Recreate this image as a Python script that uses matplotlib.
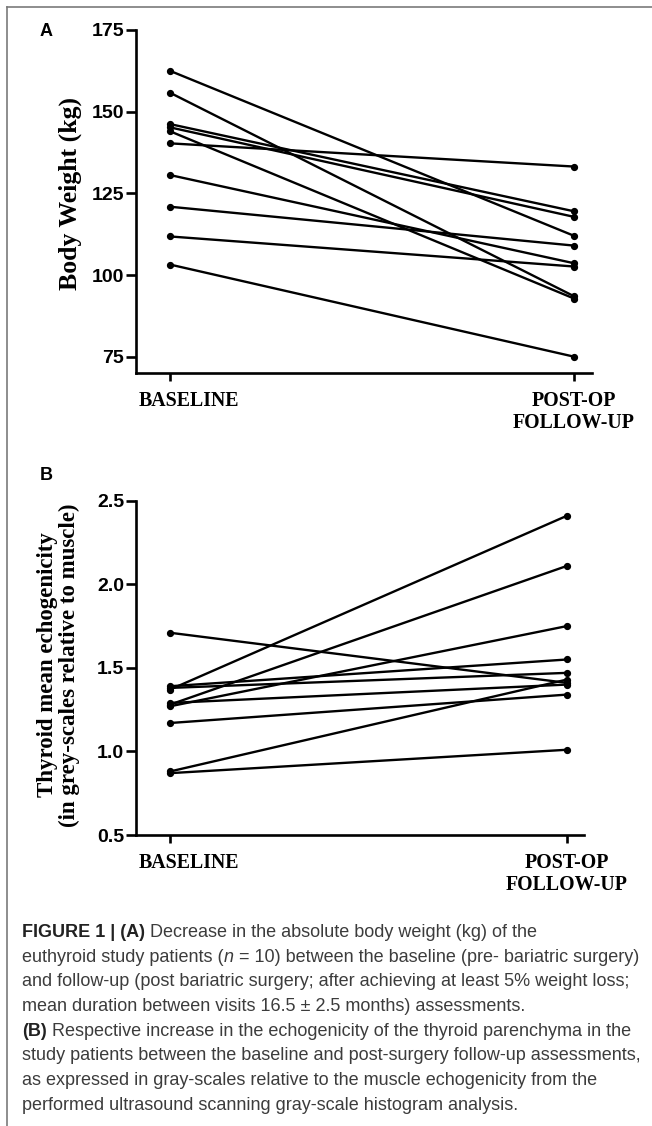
import matplotlib
matplotlib.use("Agg")
import matplotlib.pyplot as plt
from matplotlib.lines import Line2D
from matplotlib.transforms import ScaledTranslation

# ---------------- data ----------------
time_points = [0, 1]
time_labels = ["BASELINE", "POST-OP\nFOLLOW-UP"]

weight_baseline = [162.5, 155.8, 146.2, 145.2, 144.0, 140.3, 130.6, 120.9, 111.8, 103.2]
weight_postop = [112.0, 93.5, 119.5, 117.8, 92.8, 133.2, 103.6, 109.0, 102.6, 75.0]
weight_ticks = [75, 100, 125, 150, 175]

echo_baseline = [1.71, 1.37, 1.28, 1.27, 1.39, 1.38, 1.29, 1.17, 0.88, 0.87]
echo_postop = [1.41, 2.41, 2.11, 1.75, 1.55, 1.47, 1.40, 1.34, 1.43, 1.01]
echo_ticks = [0.5, 1.0, 1.5, 2.0, 2.5]
echo_tick_labels = ["0.5", "1.0", "1.5", "2.0", "2.5"]

W, H = 652, 1126
DPI = 100
fig = plt.figure(figsize=(W / DPI, H / DPI), dpi=DPI)

SANS = ["Liberation Sans", "DejaVu Sans"]
SERIF = ["Liberation Serif", "DejaVu Serif"]


def px_rect(left, top, right, bottom):
    return [left / W, 1 - bottom / H, (right - left) / W, (bottom - top) / H]


def style_axes(ax, xlim, ylim, yticks, yticklabels):
    ax.set_xlim(*xlim)
    ax.set_ylim(*ylim)
    for s in ["top", "right"]:
        ax.spines[s].set_visible(False)
    for s in ["left", "bottom"]:
        ax.spines[s].set_linewidth(1.9)
        ax.spines[s].set_color("black")
    ax.set_yticks(yticks)
    ax.set_yticklabels(yticklabels, fontfamily=SANS, fontweight="bold", fontsize=14)
    ax.set_xticks(time_points)
    ax.set_xticklabels(time_labels, fontfamily=SERIF, fontweight="bold", fontsize=14.3,
                       linespacing=1.15, va="top")
    ax.tick_params(axis="y", length=7, width=1.9, pad=1.5, direction="out")
    ax.tick_params(axis="x", length=6, width=1.9, pad=7, direction="out")
    # shift BASELINE label to the right like the reference
    lab = ax.get_xticklabels()[0]
    lab.set_transform(lab.get_transform() + ScaledTranslation(19 / DPI, 0, fig.dpi_scale_trans))
    ax.patch.set_visible(False)


def draw_pairs(ax, before, after):
    for b, a in zip(before, after):
        ax.plot(time_points, [b, a], color="black", lw=1.7, marker="o", markersize=4.2,
                solid_capstyle="round", zorder=3, clip_on=False)


# ---------------- panel A ----------------
axA = fig.add_axes(px_rect(136, 30, 592, 373))
draw_pairs(axA, weight_baseline, weight_postop)
style_axes(axA, (-34 / 404, 1 + 18 / 404), (70, 175), weight_ticks, [str(t) for t in weight_ticks])
axA.set_ylabel("Body Weight (kg)", fontfamily=SERIF, fontweight="bold", fontsize=18.5)
axA.yaxis.set_label_coords((82 - 136) / (592 - 136), (373 - 193) / (373 - 30))

# ---------------- panel B ----------------
axB = fig.add_axes(px_rect(136, 500.7, 584, 835))
draw_pairs(axB, echo_baseline, echo_postop)
style_axes(axB, (-34 / 397, 1 + 17 / 397), (0.5, 2.5), echo_ticks, echo_tick_labels)
axB.set_ylabel("Thyroid mean echogenicity\n(in grey-scales relative to muscle)",
               fontfamily=SERIF, fontweight="bold", fontsize=16.5, linespacing=1.05)
axB.yaxis.set_label_coords((80 - 136) / (584 - 136), (835 - 665) / (835 - 500.7))

# panel letters
fig.text(40 / W, 1 - 36 / H, "A", fontfamily=SANS, fontweight="bold", fontsize=13, ha="left", va="baseline")
fig.text(40 / W, 1 - 480 / H, "B", fontfamily=SANS, fontweight="bold", fontsize=13, ha="left", va="baseline")

# frame lines (top and left)
fig.add_artist(Line2D([7 / W, 1.0], [1 - 7 / H, 1 - 7 / H], transform=fig.transFigure, color="#7a7a7a", lw=1.2))
fig.add_artist(Line2D([7 / W, 7 / W], [0.0, 1 - 7 / H], transform=fig.transFigure, color="#7a7a7a", lw=1.2))

# ---------------- caption ----------------
CAP_COLOR = "#3c3c3c"
CAP_SIZE = 13.0
caption_lines = [
    [("FIGURE 1 | (A)", "bold", "normal"), (" Decrease in the absolute body weight (kg) of the", "normal", "normal")],
    [("euthyroid study patients (", "normal", "normal"), ("n", "normal", "italic"),
     (" = 10) between the baseline (pre- bariatric surgery)", "normal", "normal")],
    [("and follow-up (post bariatric surgery; after achieving at least 5% weight loss;", "normal", "normal")],
    [("mean duration between visits 16.5 \u00b1 2.5 months) assessments.", "normal", "normal")],
    [("(B)", "bold", "normal"), (" Respective increase in the echogenicity of the thyroid parenchyma in the", "normal", "normal")],
    [("study patients between the baseline and post-surgery follow-up assessments,", "normal", "normal")],
    [("as expressed in gray-scales relative to the muscle echogenicity from the", "normal", "normal")],
    [("performed ultrasound scanning gray-scale histogram analysis.", "normal", "normal")],
]
renderer = fig.canvas.get_renderer()
y0 = 937.0
dy = 24.7
for i, segs in enumerate(caption_lines):
    x = 22.0
    y = y0 + i * dy
    for txt, weight, style in segs:
        t = fig.text(x / W, 1 - y / H, txt, fontfamily=SANS, fontweight=weight, fontstyle=style,
                     fontsize=CAP_SIZE, color=CAP_COLOR if weight == "normal" else "#222222",
                     ha="left", va="baseline")
        bb = t.get_window_extent(renderer=renderer)
        x = bb.x1

fig.savefig("out.png", dpi=DPI, facecolor="white")
